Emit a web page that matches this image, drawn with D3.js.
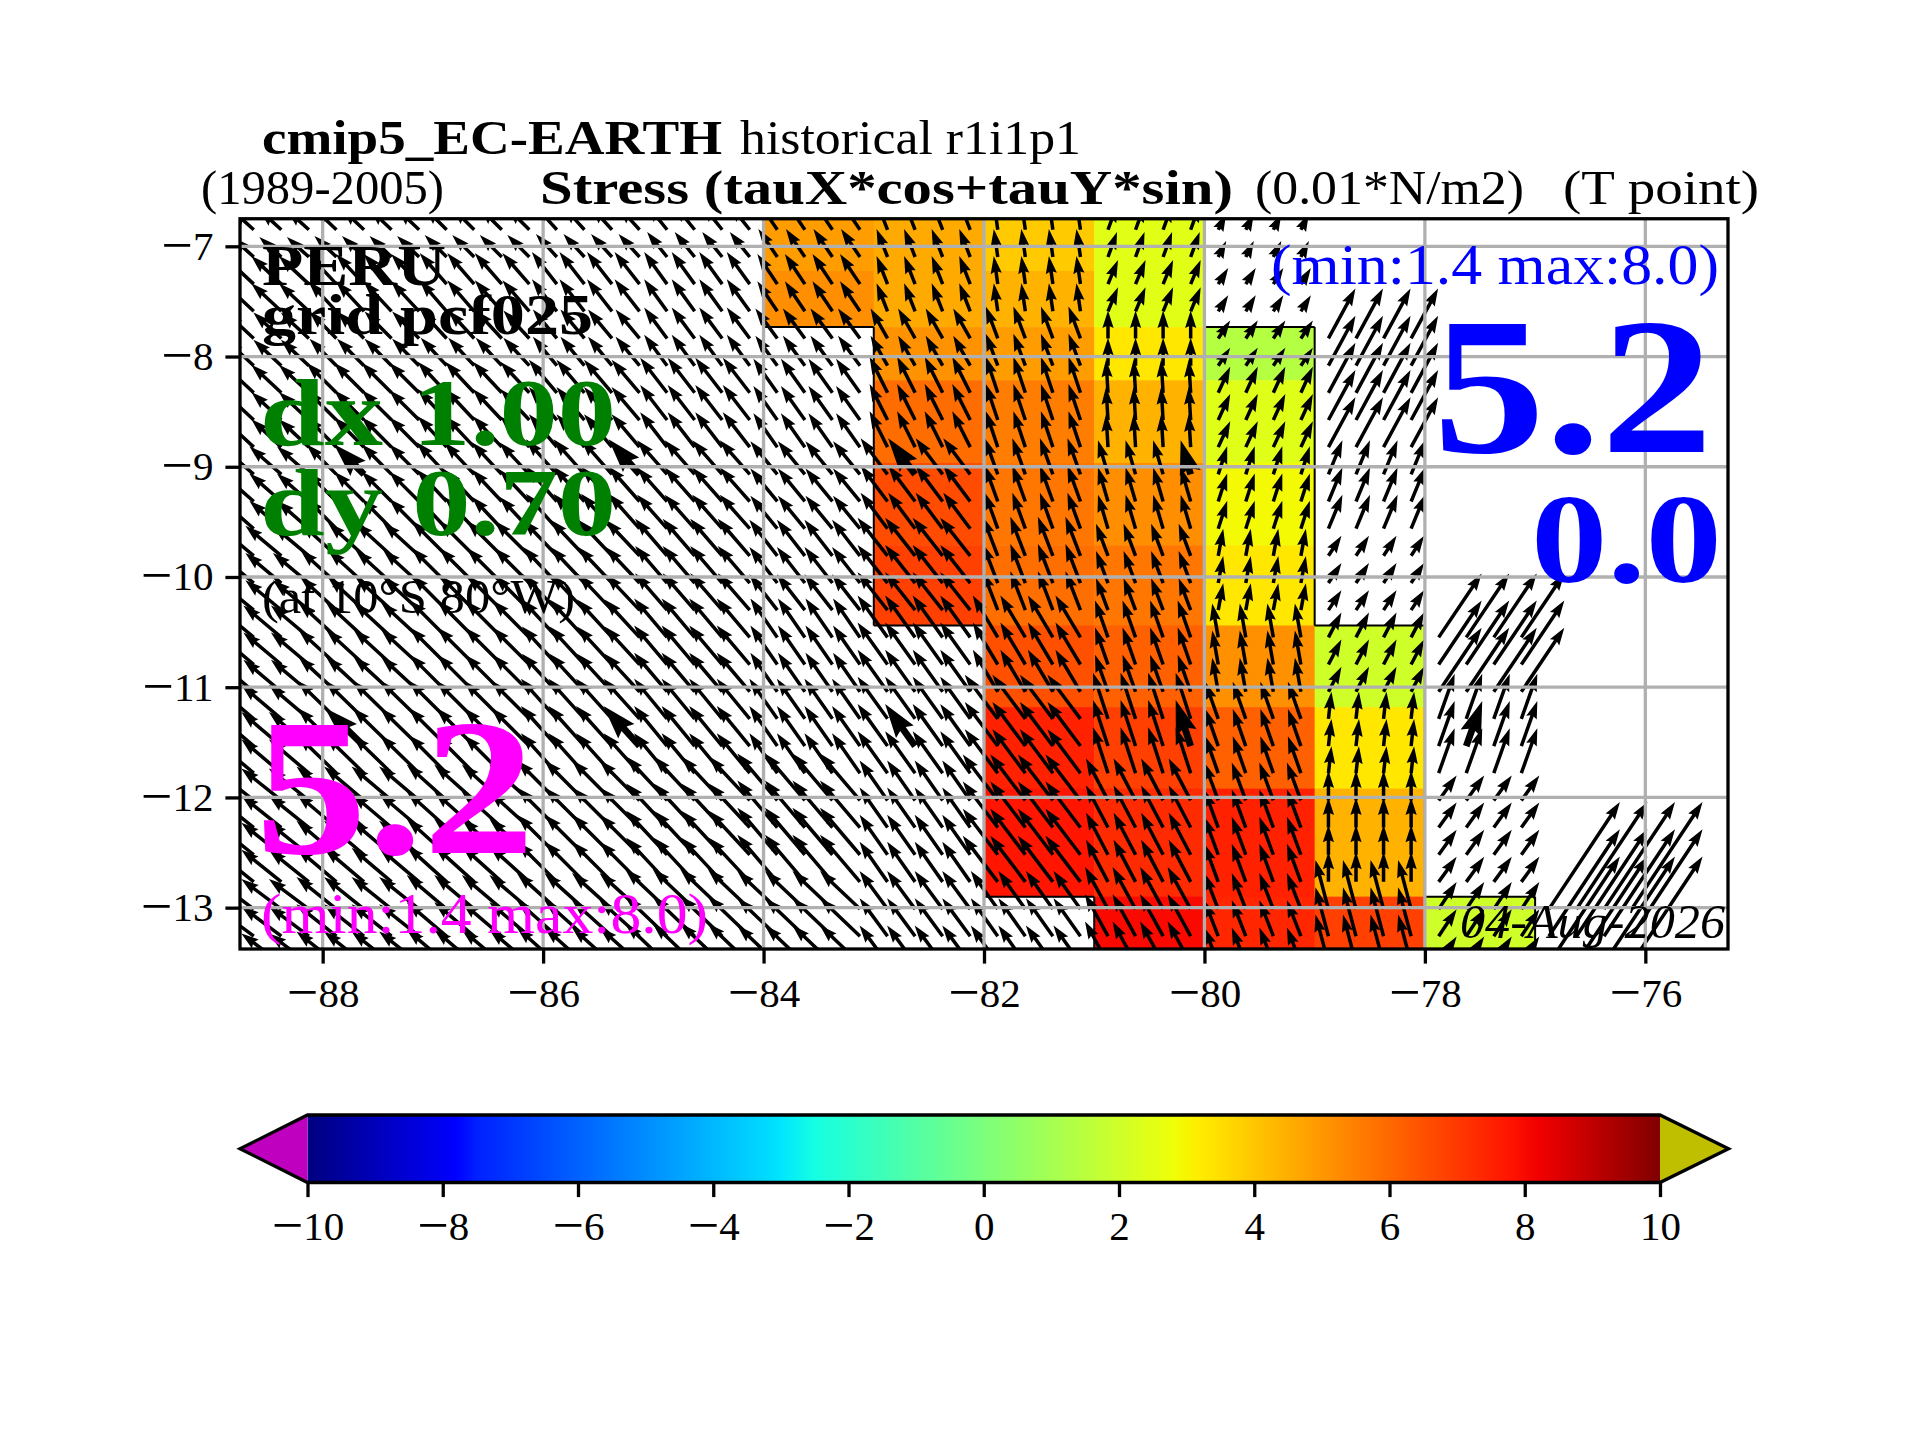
<!DOCTYPE html>
<html>
<head>
<meta charset="utf-8">
<script src="https://cdn.jsdelivr.net/npm/d3@7"></script>
<style>
body { margin: 0; background: #fff; }
text { font-family: "Liberation Serif", serif; }
</style>
</head>
<body>
<div id="chart"></div>
<script>
// cell edges of the model grid
var lonEdges = [-89, -88, -87, -86, -85, -84, -83, -82, -81, -80, -79, -78, -77, -76];
var latEdges = [-6.75, -7.224, -7.733, -8.215, -8.966, -9.713, -10.44, -11.18, -11.92, -12.9, -13.375];

// stress along the coast, 0.01 N/m2 (rows north to south, columns west to east, from -84)
var tauLons = [-84, -83, -82, -81, -80, -79, -78];
var tauRows = [
  [4.9, 4.6, 3.9, 2.45, null, null, null],
  [5.2, 4.6, 4.4, 2.45, null, null, null],
  [null, 5.1, 4.9, 3.3, 1.4, null, null],
  [null, 5.9, 5.55, 4.4, 2.4, null, null],
  [null, 6.6, 5.7, 5.2, 2.9, null, null],
  [null, 6.85, 5.85, 5.7, 3.3, null, null],
  [null, null, 6.5, 6.15, 5.15, 2.0, null],
  [null, null, 7.5, 6.85, 6.15, 3.3, null],
  [null, null, 7.75, 7.3, 7.5, 4.4, null],
  [null, null, null, 8.0, 7.4, 6.85, 2.0]
];

// wind stress vectors, one pair per cell (columns -89 to -77)
var tauX = [
  [-2.2, -2.2, -2.2, -2.1, -2.0, -1.9, -1.1, -0.4, 0.9, 0.8, null, null, null],
  [-3.0, -2.8, -2.7, -2.5, -2.3, -2.0, -1.1, -0.4, 1.0, 1.0, null, null, null],
  [-2.8, -2.7, -2.6, -2.4, -2.3, -2.2, -1.7, -1.2, 0.0, 1.2, 2.7, null, null],
  [-3.0, -3.0, -2.9, -2.8, -2.7, -2.4, -1.8, -1.2, -0.2, 1.2, 2.7, null, null],
  [-3.2, -3.0, -3.0, -3.1, -3.0, -2.7, -2.7, -1.3, -1.0, 0.9, 1.4, null, null],
  [-3.6, -3.6, -3.5, -3.4, -3.2, -2.8, -3.0, -1.5, -1.2, 0.5, 1.3, null, null],
  [-3.8, -3.8, -3.7, -3.5, -3.3, -2.7, -3.0, -2.5, -1.3, -0.6, 1.3, 4.3, null],
  [-4.0, -3.9, -3.8, -3.6, -3.3, -2.8, -3.0, -3.3, -1.5, -1.3, 0.3, 1.6, null],
  [-4.0, -4.0, -4.0, -4.0, -4.1, -4.0, -2.8, -3.5, -2.2, -1.4, 0.0, 1.8, null],
  [-4.0, -4.0, -4.0, -4.0, -4.2, -4.0, -2.8, -2.7, -2.3, -1.4, -1.3, 1.8, 7.1]
];
var tauY = [
  [2.0, 2.1, 2.2, 2.3, 2.5, 2.8, 2.8, 2.8, 2.5, 1.6, null, null, null],
  [2.8, 3.0, 3.1, 3.2, 3.2, 3.0, 2.8, 2.8, 2.4, 1.6, null, null, null],
  [2.6, 2.7, 2.8, 2.9, 3.1, 3.0, 3.0, 3.2, 2.8, 1.8, 5.0, null, null],
  [2.8, 3.0, 3.1, 3.3, 3.5, 3.4, 3.6, 3.6, 3.3, 2.6, 5.0, null, null],
  [2.8, 3.0, 3.2, 3.5, 3.4, 3.3, 3.6, 3.6, 3.4, 2.8, 3.4, null, null],
  [3.0, 3.3, 3.5, 3.6, 3.7, 3.6, 3.8, 3.9, 3.2, 2.7, 2.0, null, null],
  [3.2, 3.5, 3.7, 3.8, 3.9, 3.9, 4.2, 4.2, 3.7, 3.4, 2.5, 6.4, null],
  [3.4, 3.8, 3.8, 4.0, 4.0, 4.0, 4.2, 4.4, 4.6, 3.7, 2.7, 4.5, null],
  [3.2, 3.4, 3.6, 4.0, 4.4, 4.7, 4.0, 4.6, 4.2, 3.8, 3.0, 2.5, null],
  [3.0, 3.2, 3.4, 3.6, 4.0, 3.8, 3.8, 3.8, 4.2, 3.6, 4.9, 2.7, 10.7]
];

// where the vectors are drawn, and the ones drawn thicker
var arrowLons = [-88.875, -88.625, -88.375, -88.125, -87.875, -87.625, -87.375, -87.125, -86.875, -86.625, -86.375, -86.125,
  -85.875, -85.625, -85.375, -85.125, -84.875, -84.625, -84.375, -84.125, -83.875, -83.625, -83.375, -83.125,
  -82.875, -82.625, -82.375, -82.125, -81.875, -81.625, -81.375, -81.125, -80.875, -80.625, -80.375, -80.125,
  -79.875, -79.625, -79.375, -79.125, -78.875, -78.625, -78.375, -78.125, -77.875, -77.625, -77.375, -77.125,
  -76.875, -76.625, -76.375, -76.125];
var arrowLats = [-6.85, -7.097, -7.343, -7.59, -7.836, -8.083, -8.329, -8.576, -8.822, -9.069, -9.315, -9.562, -9.808, -10.055,
  -10.301, -10.548, -10.794, -11.041, -11.287, -11.534, -11.78, -12.027, -12.273, -12.52, -12.766, -13.013, -13.259, -13.506];
var thickLons = [-87.625, -85.125, -82.625, -80.125, -77.625];
var thickLats = [-9.069, -11.534];

var lonTicks = [-88, -86, -84, -82, -80, -78, -76];
var latTicks = [-7, -8, -9, -10, -11, -12, -13];
var cbTicks = [-10, -8, -6, -4, -2, 0, 2, 4, 6, 8, 10];

// jet
var jetValues = [-10, -7.8, -7.5, -3.2, -3, -2.5, 2.8, 3, 3.2, 7.8, 8.2, 10];
var jetColors = ["#000080", "#0000ff", "#0020ff", "#00dbff", "#00e6ff", "#15ffe2", "#efff08", "#f7f500", "#ffec00", "#ff1300", "#f20000", "#800000"];

var svg = d3.select("#chart").append("svg").attr("width", 1920).attr("height", 1440);

var x = d3.scaleLinear().domain([-88.75, -75.25]).range([240, 1728]);
var y = d3.scaleLinear().domain([-6.75, -13.375]).range([218.75, 949]);
var color = d3.scaleLinear().domain(jetValues).range(jetColors);
var arrowScale = d3.scaleLinear().domain([0, 1]).range([0, 10]);

svg.append("clipPath").attr("id", "axclip").append("rect")
  .attr("x", x.range()[0]).attr("y", y.range()[0])
  .attr("width", x.range()[1] - x.range()[0]).attr("height", y.range()[1] - y.range()[0]);

var map = svg.append("g").attr("clip-path", "url(#axclip)");

// colored cells
var cells = [];
tauRows.forEach(function(row, r) {
  row.forEach(function(v, c) {
    if (v !== null) cells.push({lon: tauLons[c], r: r, c: c, v: v});
  });
});

map.selectAll("rect.cell").data(cells).enter().append("rect")
  .attr("class", "cell")
  .attr("x", d => x(d.lon))
  .attr("y", d => y(latEdges[d.r]))
  .attr("width", d => x(d.lon + 1) - x(d.lon) + 0.5)
  .attr("height", d => y(latEdges[d.r + 1]) - y(latEdges[d.r]) + 0.5)
  .attr("fill", d => color(d.v));

// outline of the mask
function val(r, c) {
  if (r < 0 || r >= tauRows.length || c < 0 || c >= tauLons.length) return null;
  return tauRows[r][c];
}
var outline = d3.path();
cells.forEach(function(d) {
  var x0 = x(d.lon), x1 = x(d.lon + 1), y0 = y(latEdges[d.r]), y1 = y(latEdges[d.r + 1]);
  if (val(d.r - 1, d.c) === null) { outline.moveTo(x0, y0); outline.lineTo(x1, y0); }
  if (val(d.r + 1, d.c) === null) { outline.moveTo(x0, y1); outline.lineTo(x1, y1); }
  if (val(d.r, d.c - 1) === null) { outline.moveTo(x0, y0); outline.lineTo(x0, y1); }
  if (val(d.r, d.c + 1) === null) { outline.moveTo(x1, y0); outline.lineTo(x1, y1); }
});
map.append("path").attr("d", outline.toString()).attr("fill", "none")
  .attr("stroke", "#000").attr("stroke-width", 2);

// vectors
function rowOf(lat) {
  for (var i = 0; i < latEdges.length - 2; i++) {
    if (lat > latEdges[i + 1]) return i;
  }
  return latEdges.length - 2;
}
var arrows = [];
arrowLats.forEach(function(lat) {
  arrowLons.forEach(function(lon) {
    var r = rowOf(lat), c = Math.floor(lon) - lonEdges[0];
    if (tauX[r][c] === null) return;
    arrows.push({lon: lon, lat: lat, u: tauX[r][c], v: tauY[r][c],
      thick: thickLons.indexOf(lon) >= 0 && thickLats.indexOf(lat) >= 0});
  });
});

function arrowPath(d) {
  var w = d.thick ? 6.8 : 3.5;
  var len = Math.sqrt(arrowScale(d.u) * arrowScale(d.u) + arrowScale(d.v) * arrowScale(d.v));
  var f = Math.min(1, len / (5 * w));
  var hl = 5 * w * f, ha = 4.5 * w * f, hw = 1.6 * w * f, sw = w * f / 2;
  return d3.line()([[0, -sw], [len - ha, -sw], [len - hl, -hw], [len, 0], [len - hl, hw], [len - ha, sw], [0, sw]]) + "Z";
}

map.selectAll("path.arrow").data(arrows).enter().append("path")
  .attr("class", "arrow")
  .attr("d", arrowPath)
  .attr("fill", "#000")
  .attr("transform", function(d) {
    var a = Math.atan2(-arrowScale(d.v), arrowScale(d.u)) * 180 / Math.PI;
    return "translate(" + x(d.lon) + "," + y(d.lat) + ") rotate(" + a + ")";
  });

// grid
map.selectAll("line.gx").data(lonTicks).enter().append("line")
  .attr("x1", d => x(d)).attr("x2", d => x(d))
  .attr("y1", y.range()[0]).attr("y2", y.range()[1])
  .attr("stroke", "#b0b0b0").attr("stroke-width", 3.3);
map.selectAll("line.gy").data(latTicks).enter().append("line")
  .attr("y1", d => y(d)).attr("y2", d => y(d))
  .attr("x1", x.range()[0]).attr("x2", x.range()[1])
  .attr("stroke", "#b0b0b0").attr("stroke-width", 3.3);

svg.append("rect")
  .attr("x", x.range()[0]).attr("y", y.range()[0])
  .attr("width", x.range()[1] - x.range()[0]).attr("height", y.range()[1] - y.range()[0])
  .attr("fill", "none").attr("stroke", "#000").attr("stroke-width", 3.3);

// the reference has a long minus sign in its tick labels; base is the baseline offset in px
function styleAxis(g, base) {
  g.select(".domain").remove();
  g.selectAll(".tick line").attr("stroke", "#000").attr("stroke-width", 3.3);
  g.selectAll(".tick text").attr("font-family", "Liberation Serif").attr("font-size", 41).attr("fill", "#000")
    .attr("dy", 0)
    .each(function(d) {
      var t = d3.select(this);
      t.text("");
      if (d < 0) {
        t.append("tspan").attr("font-size", 56).attr("dy", base + 4).text("\u2212");
        t.append("tspan").attr("dy", -4).text(Math.abs(d));
      } else {
        t.append("tspan").attr("dy", base).text(d);
      }
    });
}

svg.append("g").attr("transform", "translate(0," + y.range()[1] + ")")
  .call(d3.axisBottom(x).tickValues(lonTicks).tickSize(14.6).tickPadding(14))
  .call(styleAxis, 29);

svg.append("g").attr("transform", "translate(" + x.range()[0] + ",0)")
  .call(d3.axisLeft(y).tickValues(latTicks).tickSize(14.6).tickPadding(12))
  .call(styleAxis, 13);

// colorbar
var cb = d3.scaleLinear().domain([-10, 10]).range([307.5, 1660]);
var cbTop = 1115, cbBottom = 1182.5, cbMid = (cbTop + cbBottom) / 2;

var grad = svg.append("defs").append("linearGradient").attr("id", "jet");
grad.selectAll("stop").data(jetValues).enter().append("stop")
  .attr("offset", d => (d + 10) / 20)
  .attr("stop-color", d => color(d));

svg.append("rect").attr("x", cb(-10)).attr("y", cbTop)
  .attr("width", cb(10) - cb(-10)).attr("height", cbBottom - cbTop)
  .attr("fill", "url(#jet)");
svg.append("path")
  .attr("d", d3.line()([[cb(-10), cbTop], [240, cbMid], [cb(-10), cbBottom]]) + "Z")
  .attr("fill", "#bf00bf");
svg.append("path")
  .attr("d", d3.line()([[cb(10), cbTop], [1728.5, cbMid], [cb(10), cbBottom]]) + "Z")
  .attr("fill", "#bfbf00");
svg.append("path")
  .attr("d", d3.line()([[cb(-10), cbTop], [cb(10), cbTop], [1728.5, cbMid], [cb(10), cbBottom], [cb(-10), cbBottom], [240, cbMid]]) + "Z")
  .attr("fill", "none").attr("stroke", "#000").attr("stroke-width", 3.3);

svg.append("g").attr("transform", "translate(0," + cbBottom + ")")
  .call(d3.axisBottom(cb).tickValues(cbTicks).tickSize(14.6).tickPadding(14))
  .call(styleAxis, 29);

// texts
function label(str, px, py, size, opts) {
  opts = opts || {};
  var t = svg.append("text").attr("x", px).attr("y", py).attr("font-size", size)
    .attr("fill", opts.fill || "#000").text(str);
  if (opts.bold) t.attr("font-weight", "bold");
  if (opts.italic) t.attr("font-style", "italic");
  if (opts.w) t.attr("textLength", opts.w).attr("lengthAdjust", "spacingAndGlyphs");
  return t;
}

label("cmip5_EC-EARTH", 262, 154, 48, {bold: true, w: 460});
label("historical r1i1p1", 740, 154, 48, {w: 341});
label("(1989-2005)", 201, 204, 48, {w: 243});
label("Stress (tauX*cos+tauY*sin)", 540, 204, 48, {bold: true, w: 693});
label("(0.01*N/m2)", 1255, 204, 48, {w: 269});
label("(T point)", 1563, 204, 48, {w: 196});

label("PERU", 262, 285, 58, {bold: true, w: 184});
label("grid pcf025", 262, 334, 58, {bold: true, w: 331});
label("dx 1.00", 260, 445, 96, {fill: "#008000", bold: true, w: 356});
label("dy 0.70", 260, 535, 96, {fill: "#008000", bold: true, w: 356});
label("(at 10\u00b0S 80\u00b0W)", 262, 613, 48, {w: 313});
label("5.2", 255, 853, 194, {fill: "#ff00ff", bold: true, w: 280});
label("(min:1.4 max:8.0)", 261, 933, 57, {fill: "#ff00ff", w: 447});

label("(min:1.4 max:8.0)", 1271, 284, 57, {fill: "#0000ff", w: 448});
label("5.2", 1433, 452, 194, {fill: "#0000ff", bold: true, w: 280});
label("0.0", 1531, 582, 127, {fill: "#0000ff", bold: true, w: 191});
label("04-Aug-2026", 1460, 938, 48, {italic: true, w: 265});
</script>
</body>
</html>
